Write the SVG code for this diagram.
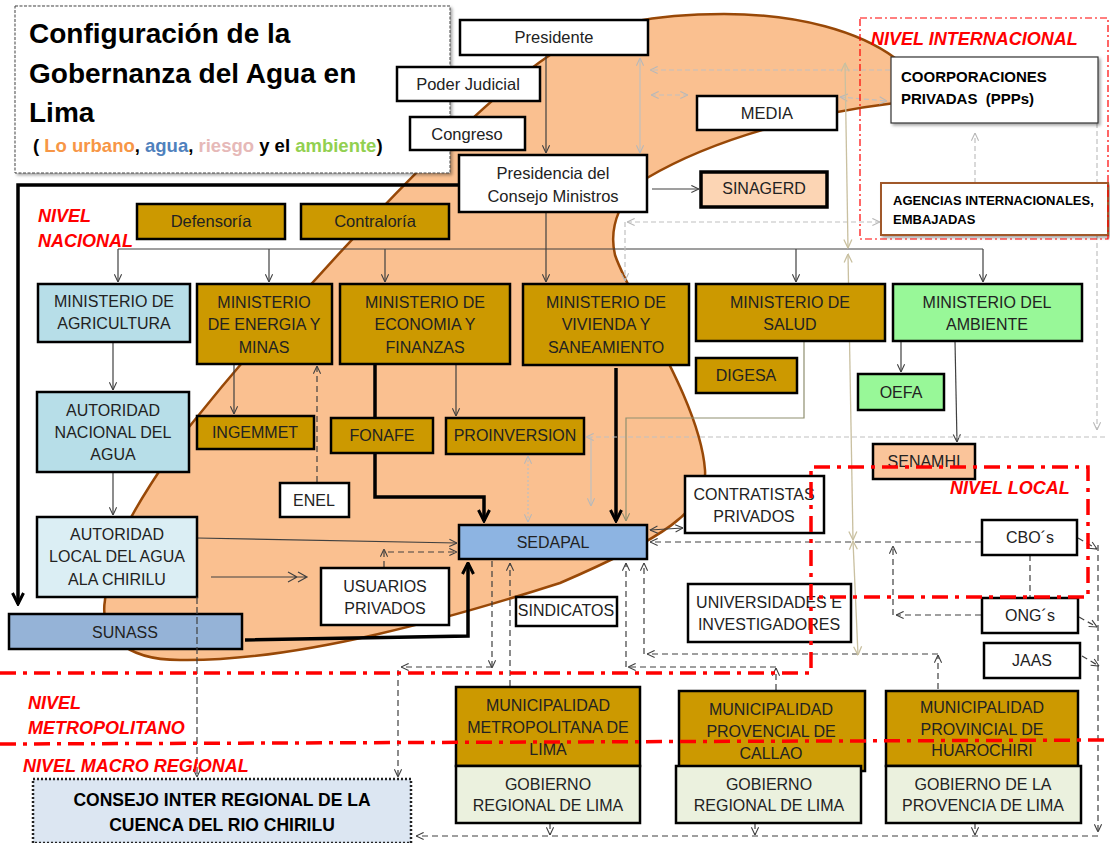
<svg xmlns="http://www.w3.org/2000/svg" width="1110" height="843" viewBox="0 0 1110 843">
<defs>
<style>
.t{font-family:"Liberation Sans",Arial,sans-serif;font-size:16px;fill:#222;text-anchor:middle}
.m{font-size:16.5px}
.bx{stroke:#000;stroke-width:2.5}
.w{fill:#fff}
.g{fill:#CC9900}
.lb{fill:#B7DEE8}
.gr{fill:#98F898}
.gv{fill:#EBF1DE}
.c{fill:none;stroke:#404040;stroke-width:1.2}
.dk{stroke-dasharray:6 4}
.lgt{fill:none;stroke:#C0C0C0;stroke-width:1.2}
.ld{stroke-dasharray:5 3}
.tan{fill:none;stroke:#C9C0A0;stroke-width:1.3}
.olv{fill:none;stroke:#8F8F70;stroke-width:1.2}
.thk{fill:none;stroke:#000;stroke-width:3.5}
.red{fill:none;stroke:#FF0000;stroke-width:3.5;stroke-dasharray:16 7 4 7}
.lvl{font-family:"Liberation Sans",Arial,sans-serif;font-size:18px;font-weight:bold;font-style:italic;fill:#FF0000}
.bt{font-family:"Liberation Sans",Arial,sans-serif;font-weight:bold;fill:#000}
</style>
<filter id="sh" x="-10%" y="-10%" width="130%" height="140%"><feDropShadow dx="2" dy="2" stdDeviation="1.5" flood-color="#000" flood-opacity="0.35"/></filter>
<marker id="ad" viewBox="0 0 10 10" refX="9.5" refY="5" markerWidth="9" markerHeight="9" markerUnits="userSpaceOnUse" orient="auto-start-reverse"><path d="M1,1 L9.5,5 L1,9" fill="none" stroke="#404040" stroke-width="1.2"/></marker>
<marker id="al" viewBox="0 0 10 10" refX="9.5" refY="5" markerWidth="9" markerHeight="9" markerUnits="userSpaceOnUse" orient="auto-start-reverse"><path d="M1,1 L9.5,5 L1,9" fill="none" stroke="#B8B8B8" stroke-width="1.2"/></marker>
<marker id="at" viewBox="0 0 10 10" refX="9.5" refY="5" markerWidth="10" markerHeight="10" markerUnits="userSpaceOnUse" orient="auto-start-reverse"><path d="M1,1 L9.5,5 L1,9" fill="none" stroke="#C9C0A0" stroke-width="1.3"/></marker>
<marker id="ao" viewBox="0 0 10 10" refX="9.5" refY="5" markerWidth="9" markerHeight="9" markerUnits="userSpaceOnUse" orient="auto-start-reverse"><path d="M1,1 L9.5,5 L1,9" fill="none" stroke="#8F8F70" stroke-width="1.2"/></marker>
<marker id="ak" viewBox="0 0 14 14" refX="12.5" refY="7" markerWidth="14" markerHeight="14" markerUnits="userSpaceOnUse" orient="auto"><path d="M1.5,1.5 L12.5,7 L1.5,12.5" fill="none" stroke="#000" stroke-width="3"/></marker>
</defs>

<rect width="1110" height="843" fill="#fff"/>

<path id="blob" d="M550,55 C600,22 660,14 724,14 C800,14 860,32 895,58 L895,103 C820,112 720,135 647,178 C622,195 608,225 615,255 C630,300 700,400 705,470 C708,510 660,540 560,583 C460,615 300,662 180,660 C120,660 100,630 105,600 C110,540 140,500 189,427 C295,295 465,112 550,55 Z" fill="#FAC090" stroke="#984807" stroke-width="2.5"/>

<g id="title">
<rect x="15" y="6" width="435" height="167" fill="#fff" stroke="#444" stroke-width="1" stroke-dasharray="3 1.5" filter="url(#sh)"/>
<text class="bt" x="29" y="43" font-size="28">Configuración de la</text>
<text class="bt" x="29" y="83" font-size="28">Gobernanza del Agua en</text>
<text class="bt" x="29" y="122" font-size="28">Lima</text>
<text class="bt" x="33" y="152" font-size="18.5">( <tspan fill="#F79646">Lo urbano</tspan>, <tspan fill="#4F81BD">agua</tspan>, <tspan fill="#E6B9B8">riesgo</tspan> y el <tspan fill="#92D050">ambiente</tspan>)</text>
</g>

<g id="connectors">
<path class="c" d="M546,55V153" marker-end="url(#ad)"/>
<path class="c" d="M652,189H699" marker-end="url(#ad)"/>
<path class="c" d="M546,213V282" marker-end="url(#ad)"/>
<path class="c" d="M118,249H983"/>
<path class="c" d="M118,249V282" marker-end="url(#ad)"/>
<path class="c" d="M269,249V282" marker-end="url(#ad)"/>
<path class="c" d="M385,249V282" marker-end="url(#ad)"/>
<path class="c" d="M796,249V282" marker-end="url(#ad)"/>
<path class="c" d="M983,249V282" marker-end="url(#ad)"/>
<path class="c" d="M113,342V390" marker-end="url(#ad)"/>
<path class="c" d="M113,472V515" marker-end="url(#ad)"/>
<path class="c" d="M234,364V414" marker-end="url(#ad)"/>
<path class="c" d="M456,364V416" marker-end="url(#ad)"/>
<path class="c" d="M901,341V372" marker-end="url(#ad)"/>
<path class="c" d="M955,341L957,442" marker-end="url(#ad)"/>
<path class="c" d="M197,538L457,543" marker-end="url(#ad)"/>
<path class="c" d="M211,577H307M288,572L297,577L288,582M298,572L307,577L298,582"/>
<path class="c" d="M650,530L683,528" marker-start="url(#ad)" marker-end="url(#ad)"/>

<path class="thk" d="M458,185H18V604" marker-end="url(#ak)"/>
<path class="thk" d="M375,364V497H484V521" marker-end="url(#ak)"/>
<path class="thk" d="M616,368V521" marker-end="url(#ak)"/>
<path class="thk" d="M245,640L468,636V563" marker-end="url(#ak)"/>

<path class="c dk" d="M317,482V366" marker-end="url(#ad)"/>
<path class="c dk" d="M384,567V549" marker-end="url(#ad)"/>
<path class="c dk" d="M388,552H457" marker-end="url(#ad)"/>
<path class="c dk" d="M492,561V668" marker-end="url(#ad)"/>
<path class="c dk" d="M492,667H401" marker-end="url(#ad)"/>
<path class="c dk" d="M398,670V777" marker-end="url(#ad)"/>
<path class="c dk" d="M510,686V563" marker-end="url(#ad)"/>
<path class="c dk" d="M776,690V668" marker-end="url(#ad)"/>
<path class="c dk" d="M776,667H628" marker-end="url(#ad)"/>
<path class="c dk" d="M626,667V563" marker-end="url(#ad)"/>
<path class="c dk" d="M938,689V655" marker-end="url(#ad)"/>
<path class="c dk" d="M938,654H647" marker-end="url(#ad)"/>
<path class="c dk" d="M644,654V563" marker-end="url(#ad)"/>
<path class="c dk" d="M981,542H650" marker-end="url(#ad)"/>
<path class="c dk" d="M981,615H896" marker-end="url(#ad)"/>
<path class="c dk" d="M893,615V546" marker-end="url(#ad)"/>
<path class="c dk" d="M1030,555V598"/>
<path class="c dk" d="M1078,538L1097,549" marker-end="url(#ad)"/>
<path class="c dk" d="M1079,617L1097,627" marker-end="url(#ad)"/>
<path class="c dk" d="M1082,656L1099,666" marker-end="url(#ad)"/>
<path class="c dk" d="M1098,545V832" marker-end="url(#ad)"/>
<path class="c dk" d="M1098,836H416" marker-end="url(#ad)"/>
<path class="c dk" d="M550,823V835" marker-end="url(#ad)"/>
<path class="c dk" d="M755,823V835" marker-end="url(#ad)"/>
<path class="c dk" d="M975,823V835" marker-end="url(#ad)"/>

<path class="lgt ld" d="M890,70H650" marker-end="url(#al)"/>
<path class="lgt ld" d="M651,95H688" marker-start="url(#al)" marker-end="url(#al)"/>
<path class="lgt ld" d="M840,97L887,101" marker-start="url(#al)" marker-end="url(#al)"/>
<path class="lgt" d="M640,58V153" marker-start="url(#al)" marker-end="url(#al)"/>
<path class="lgt ld" d="M880,222H627" marker-start="url(#al)" marker-end="url(#al)"/>
<path class="lgt ld" d="M625,222V281" marker-end="url(#al)"/>
<path class="lgt ld" d="M975,183V133" marker-end="url(#al)"/>
<path class="lgt ld" d="M1097,123V430" marker-end="url(#al)"/>
<path class="lgt ld" d="M1105,437H586" marker-end="url(#al)"/>
<path class="lgt" d="M591,437V506" marker-end="url(#al)"/>
<path class="lgt" stroke-dasharray="2 2" d="M528,456V522" marker-start="url(#al)" marker-end="url(#al)"/>

<path class="olv" d="M804,341V418H626V521" marker-end="url(#ao)"/>

<path class="tan" d="M845,63L848,248" marker-start="url(#at)" marker-end="url(#at)"/>
<path class="tan" d="M848,254L853,540" marker-start="url(#at)" marker-end="url(#at)"/>
<path class="tan" d="M853,541L858,655" marker-start="url(#at)" marker-end="url(#at)"/>
</g>

<g id="n-presidente"><rect class="bx w" x="460" y="20" width="188" height="35"/><text class="t m" x="554" y="43">Presidente</text></g>
<g id="n-poder"><rect class="bx w" x="397" y="67" width="143" height="34"/><text class="t m" x="468" y="90">Poder Judicial</text></g>
<g id="n-congreso"><rect class="bx w" x="410" y="117" width="115" height="33"/><text class="t m" x="467" y="140">Congreso</text></g>
<g id="n-media"><rect class="bx w" x="697" y="96" width="140" height="34"/><text class="t m" x="767" y="119">MEDIA</text></g>
<g id="n-pcm"><rect class="bx w" x="459" y="155" width="188" height="57"/><text class="t m" x="553" y="179">Presidencia del</text><text class="t m" x="553" y="202">Consejo Ministros</text></g>
<g id="n-sinagerd"><rect x="701" y="172" width="126" height="35" fill="#FCD5B4" stroke="#000" stroke-width="3.5"/><text class="t" x="764" y="194" font-size="13.5">SINAGERD</text></g>
<g id="n-corp"><rect x="891" y="57" width="207" height="66" fill="#fff" stroke="#333" stroke-width="1.2" filter="url(#sh)"/><text class="bt" x="901" y="82" font-size="15">COORPORACIONES</text><text class="bt" x="901" y="104" font-size="15">PRIVADAS&#160; (PPPs)</text></g>
<g id="n-agencias"><rect x="881" y="183" width="227" height="52" fill="#fff" stroke="#A0582C" stroke-width="2" filter="url(#sh)"/><text class="bt" x="893" y="205" font-size="13">AGENCIAS INTERNACIONALES,</text><text class="bt" x="893" y="224" font-size="13">EMBAJADAS</text></g>

<g id="n-defensoria"><rect class="bx g" x="137" y="204" width="148" height="35"/><text class="t m" x="211" y="227">Defensoría</text></g>
<g id="n-contraloria"><rect class="bx g" x="301" y="204" width="148" height="35"/><text class="t m" x="375" y="227">Contraloría</text></g>
<g id="n-agricultura"><rect class="bx lb" x="38" y="284" width="152" height="58"/><text class="t" x="114" y="307">MINISTERIO DE</text><text class="t" x="114" y="329">AGRICULTURA</text></g>
<g id="n-energia"><rect class="bx g" x="197" y="284" width="135" height="80"/><text class="t" x="264" y="308">MINISTERIO</text><text class="t" x="264" y="330">DE ENERGIA Y</text><text class="t" x="264" y="353">MINAS</text></g>
<g id="n-economia"><rect class="bx g" x="340" y="284" width="170" height="80"/><text class="t" x="425" y="308">MINISTERIO DE</text><text class="t" x="425" y="330">ECONOMIA Y</text><text class="t" x="425" y="353">FINANZAS</text></g>
<g id="n-vivienda"><rect class="bx g" x="523" y="284" width="166" height="81"/><text class="t" x="606" y="308">MINISTERIO DE</text><text class="t" x="606" y="330">VIVIENDA Y</text><text class="t" x="606" y="353">SANEAMIENTO</text></g>
<g id="n-salud"><rect class="bx g" x="696" y="284" width="189" height="57"/><text class="t" x="790" y="308">MINISTERIO DE</text><text class="t" x="790" y="330">SALUD</text></g>
<g id="n-ambiente"><rect class="bx gr" x="893" y="284" width="189" height="57"/><text class="t" x="987" y="308">MINISTERIO DEL</text><text class="t" x="987" y="330">AMBIENTE</text></g>
<g id="n-digesa"><rect class="bx g" x="696" y="358" width="101" height="35"/><text class="t" x="746" y="381">DIGESA</text></g>
<g id="n-oefa"><rect class="bx gr" x="858" y="374" width="86" height="36"/><text class="t" x="901" y="398">OEFA</text></g>
<g id="n-ingemmet"><rect class="bx g" x="197" y="416" width="117" height="33"/><text class="t" x="255" y="438">INGEMMET</text></g>
<g id="n-fonafe"><rect class="bx g" x="331" y="418" width="102" height="35"/><text class="t" x="382" y="441">FONAFE</text></g>
<g id="n-proinversion"><rect class="bx g" x="446" y="418" width="138" height="36"/><text class="t" x="515" y="441" font-size="14.5">PROINVERSION</text></g>
<g id="n-senamhi"><rect class="bx" x="873" y="444" width="102" height="35" fill="#FAC49A"/><text class="t" x="924" y="467">SENAMHI</text></g>
<g id="n-ana"><rect class="bx lb" x="37" y="392" width="152" height="80"/><text class="t" x="113" y="416">AUTORIDAD</text><text class="t" x="113" y="438">NACIONAL DEL</text><text class="t" x="113" y="460">AGUA</text></g>
<g id="n-enel"><rect class="bx w" x="280" y="483" width="69" height="34"/><text class="t" x="314" y="506">ENEL</text></g>
<g id="n-contratistas"><rect class="bx w" x="685" y="476" width="139" height="57"/><text class="t" x="754" y="500">CONTRATISTAS</text><text class="t" x="754" y="522">PRIVADOS</text></g>
<g id="n-ala"><rect class="bx" x="37" y="517" width="160" height="80" fill="#DBEEF4"/><text class="t" x="117" y="540">AUTORIDAD</text><text class="t" x="117" y="562">LOCAL DEL AGUA</text><text class="t" x="117" y="585">ALA CHIRILU</text></g>
<g id="n-sedapal"><rect class="bx" x="459" y="525" width="188" height="34" fill="#8DB4E2"/><text class="t" x="553" y="548">SEDAPAL</text></g>
<g id="n-usuarios"><rect class="bx w" x="321" y="568" width="128" height="57"/><text class="t" x="385" y="592">USUARIOS</text><text class="t" x="385" y="614">PRIVADOS</text></g>
<g id="n-sindicatos"><rect class="bx w" x="516" y="597" width="101" height="29"/><text class="t" x="566" y="616" font-size="11.5">SINDICATOS</text></g>
<g id="n-sunass"><rect class="bx" x="9" y="614" width="233" height="35" fill="#95B3D7"/><text class="t" x="125" y="638">SUNASS</text></g>
<g id="n-universidades"><rect class="bx w" x="688" y="584" width="163" height="58"/><text class="t" x="769" y="608">UNIVERSIDADES E</text><text class="t" x="769" y="630">INVESTIGADORES</text></g>
<g id="n-cbo"><rect class="bx w" x="982" y="520" width="95" height="35"/><text class="t" x="1030" y="543">CBO´s</text></g>
<g id="n-ong"><rect class="bx w" x="982" y="598" width="96" height="35"/><text class="t" x="1030" y="621">ONG´s</text></g>
<g id="n-jaas"><rect class="bx w" x="984" y="643" width="96" height="35"/><text class="t" x="1032" y="666">JAAS</text></g>

<g id="n-muni-lima"><rect class="bx g" x="456" y="687" width="184" height="79"/><text class="t" x="548" y="711">MUNICIPALIDAD</text><text class="t" x="548" y="733">METROPOLITANA DE</text><text class="t" x="548" y="755">LIMA</text></g>
<g id="n-gob-lima1"><rect class="bx gv" x="456" y="766" width="184" height="57"/><text class="t" x="548" y="790">GOBIERNO</text><text class="t" x="548" y="811">REGIONAL DE LIMA</text></g>
<g id="n-muni-callao"><rect class="bx g" x="679" y="691" width="186" height="80"/><text class="t" x="771" y="715">MUNICIPALIDAD</text><text class="t" x="771" y="737">PROVENCIAL DE</text><text class="t" x="771" y="759">CALLAO</text></g>
<g id="n-gob-lima2"><rect class="bx gv" x="676" y="766" width="185" height="57"/><text class="t" x="769" y="790">GOBIERNO</text><text class="t" x="769" y="811">REGIONAL DE LIMA</text></g>
<g id="n-muni-huarochiri"><rect class="bx g" x="886" y="691" width="192" height="75"/><text class="t" x="982" y="713" font-size="14">MUNICIPALIDAD</text><text class="t" x="982" y="735" font-size="14">PROVINCIAL DE</text><text class="t" x="982" y="756" font-size="14">HUAROCHIRI</text></g>
<g id="n-gob-provlima"><rect class="bx gv" x="886" y="766" width="195" height="57"/><text class="t" x="983" y="790">GOBIERNO DE LA</text><text class="t" x="983" y="811">PROVENCIA DE LIMA</text></g>
<g id="n-consejo"><rect x="33" y="779" width="378" height="64" fill="#DCE6F2" stroke="#222" stroke-width="2.5" stroke-dasharray="2 2"/><text class="bt" x="222" y="806" font-size="17.5" text-anchor="middle">CONSEJO INTER REGIONAL DE LA</text><text class="bt" x="222" y="831" font-size="17.5" text-anchor="middle">CUENCA DEL RIO CHIRILU</text></g>

<g id="connectors-over">
<path class="c" stroke-dasharray="7 3" d="M197,597V777" marker-end="url(#ad)"/>
</g>

<g id="levels">
<rect x="860" y="18" width="248" height="221" fill="none" stroke="#FF0000" stroke-width="1.2" stroke-dasharray="7 3 2 3"/>
<path class="red" d="M0,673H811V467H1088V597H811"/>
<path class="red" d="M0,744L1110,740"/>
<text class="lvl" x="871" y="45">NIVEL INTERNACIONAL</text>
<text class="lvl" x="38" y="222">NIVEL</text>
<text class="lvl" x="38" y="247">NACIONAL</text>
<text class="lvl" x="950" y="494">NIVEL LOCAL</text>
<text class="lvl" x="28" y="709">NIVEL</text>
<text class="lvl" x="28" y="734">METROPOLITANO</text>
<text class="lvl" x="23" y="772">NIVEL MACRO REGIONAL</text>
</g>
</svg>
